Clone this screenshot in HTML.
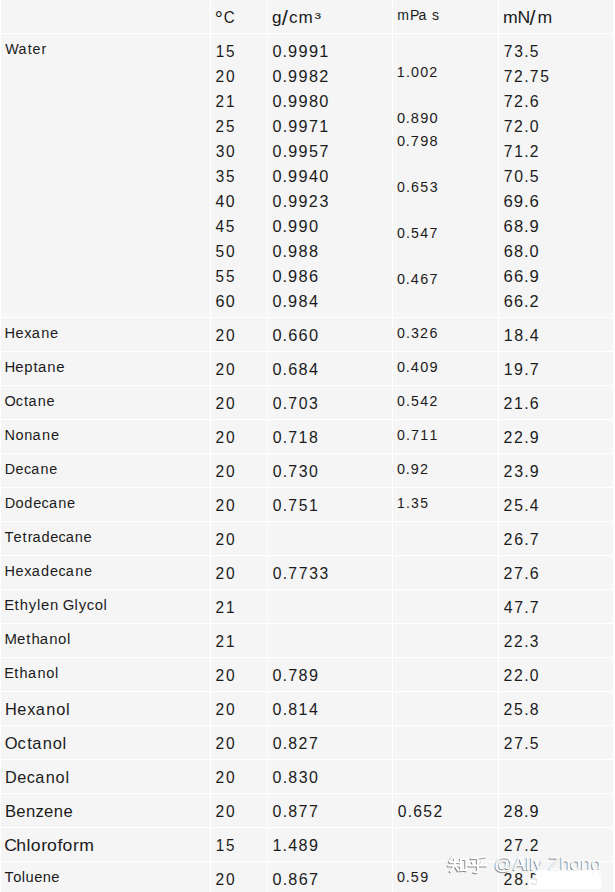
<!DOCTYPE html>
<html><head><meta charset="utf-8"><title>Liquid properties table</title><style>
html,body{margin:0;padding:0}
body{width:615px;height:892px;position:relative;overflow:hidden;background:#f5f5f5;font-family:"Liberation Sans",sans-serif;color:#1b1b1b;font-kerning:none}
p{position:absolute;left:0;top:0;margin:0;white-space:nowrap;transform-origin:0 0;line-height:1}
s{display:inline-block;text-decoration:none;transform-origin:0 0;white-space:pre}
i{position:absolute;display:block}
</style></head><body>
<i style="left:0px;top:33px;width:615px;height:1px;background:#fff"></i><i style="left:0px;top:314px;width:615px;height:1px;background:#f9f9f9"></i><i style="left:0px;top:317px;width:615px;height:1px;background:#fff"></i><i style="left:0px;top:351px;width:615px;height:1px;background:#fff"></i><i style="left:0px;top:385px;width:615px;height:1px;background:#fff"></i><i style="left:0px;top:419px;width:615px;height:1px;background:#fff"></i><i style="left:0px;top:453px;width:615px;height:1px;background:#fff"></i><i style="left:0px;top:487px;width:615px;height:1px;background:#fff"></i><i style="left:0px;top:521px;width:615px;height:1px;background:#fff"></i><i style="left:0px;top:555px;width:615px;height:1px;background:#fff"></i><i style="left:0px;top:589px;width:615px;height:1px;background:#fff"></i><i style="left:0px;top:623px;width:615px;height:1px;background:#fff"></i><i style="left:0px;top:657px;width:615px;height:1px;background:#fff"></i><i style="left:0px;top:691px;width:615px;height:1px;background:#fff"></i><i style="left:0px;top:725px;width:615px;height:1px;background:#fff"></i><i style="left:0px;top:759px;width:615px;height:1px;background:#fff"></i><i style="left:0px;top:793px;width:615px;height:1px;background:#fff"></i><i style="left:0px;top:827px;width:615px;height:1px;background:#fff"></i><i style="left:0px;top:861px;width:615px;height:1px;background:#fff"></i><i style="left:210px;top:0px;width:1px;height:892px;background:#fff"></i><i style="left:213px;top:0px;width:1px;height:892px;background:#f8f8f8"></i><i style="left:267px;top:0px;width:1px;height:892px;background:#fff"></i><i style="left:270px;top:0px;width:1px;height:892px;background:#f8f8f8"></i><i style="left:392px;top:0px;width:1px;height:892px;background:#fff"></i><i style="left:395px;top:0px;width:1px;height:892px;background:#f8f8f8"></i><i style="left:498px;top:0px;width:1px;height:892px;background:#fff"></i><i style="left:501px;top:0px;width:1px;height:892px;background:#f8f8f8"></i><i style="left:0px;top:0px;width:1px;height:892px;background:#fff"></i><i style="left:613px;top:0px;width:2px;height:892px;background:#fff"></i>
<p style="font-size:16.4px;transform:translate(215.904px,9.114px) scaleX(0.9231)"><s style="width:8.513px;transform:translate(-1.130px,-1.174px) scale(1.3424,1.2826)">°</s><s style="width:11.844px">C</s></p>
<p style="font-size:16.4px;transform:translate(272.110px,8.914px) scaleX(1.0432)"><s style="width:10.152px">g</s><s style="width:6.024px;transform:translate(-0.671px,-1.227px) scale(1.2920,1.2149)">/</s><s style="width:9.035px">c</s><s style="width:15.888px">m</s><s style="width:5.461px;transform:translate(-0.409px,1.149px) scale(1.1542,0.9000)">³</s></p>
<p style="font-size:14.0px;transform:translate(397.273px,7.746px) scaleX(1.0062)"><s style="width:12.539px">m</s><s style="width:8.545px">P</s><s style="width:7.786px">a</s><s style="width:5.761px"> </s><s style="width:7.000px">s</s></p>
<p style="font-size:16.4px;transform:translate(503.033px,9.014px) scaleX(1.0748)"><s style="width:13.366px">m</s><s style="width:11.563px">N</s><s style="width:7.126px;transform:translate(-0.491px,-1.094px) scale(1.2135,1.1983)">/</s><s style="width:13.661px">m</s></p>
<p style="font-size:14.0px;transform:translate(5.367px,41.846px) scaleX(1.0171)"><s style="width:12.842px">W</s><s style="width:9.161px">a</s><s style="width:4.785px">t</s><s style="width:8.671px">e</s><s style="width:4.662px">r</s></p>
<p style="font-size:16.4px;transform:translate(215.630px,43.014px) scaleX(0.9307)"><s style="width:11.078px">1</s><s style="width:9.120px">5</s></p>
<p style="font-size:16.4px;transform:translate(272.513px,43.014px) scaleX(0.9959)"><s style="width:10.142px">0</s><s style="width:5.495px">.</s><s style="width:10.461px">9</s><s style="width:10.461px">9</s><s style="width:10.465px">9</s><s style="width:9.120px">1</s></p>
<p style="font-size:16.4px;transform:translate(503.803px,43.014px) scaleX(0.9523)"><s style="width:10.983px">7</s><s style="width:10.448px">3</s><s style="width:5.844px">.</s><s style="width:9.120px">5</s></p>
<p style="font-size:16.4px;transform:translate(215.433px,68.014px) scaleX(0.9490)"><s style="width:11.036px">2</s><s style="width:9.120px">0</s></p>
<p style="font-size:16.4px;transform:translate(272.538px,68.014px) scaleX(0.9906)"><s style="width:10.184px">0</s><s style="width:5.537px">.</s><s style="width:10.517px">9</s><s style="width:10.618px">9</s><s style="width:10.310px">8</s><s style="width:9.120px">2</s></p>
<p style="font-size:16.4px;transform:translate(503.804px,68.014px) scaleX(0.9524)"><s style="width:10.775px">7</s><s style="width:10.662px">2</s><s style="width:5.900px">.</s><s style="width:10.883px">7</s><s style="width:9.120px">5</s></p>
<p style="font-size:16.4px;transform:translate(215.520px,93.014px) scaleX(0.9302)"><s style="width:11.225px">2</s><s style="width:9.120px">1</s></p>
<p style="font-size:16.4px;transform:translate(272.507px,93.014px) scaleX(0.9971)"><s style="width:10.131px">0</s><s style="width:5.485px">.</s><s style="width:10.446px">9</s><s style="width:10.547px">9</s><s style="width:10.395px">8</s><s style="width:9.120px">0</s></p>
<p style="font-size:16.4px;transform:translate(503.695px,93.014px) scaleX(0.9756)"><s style="width:10.512px">7</s><s style="width:10.456px">2</s><s style="width:5.755px">.</s><s style="width:9.120px">6</s></p>
<p style="font-size:16.4px;transform:translate(215.517px,118.014px) scaleX(0.9307)"><s style="width:11.201px">2</s><s style="width:9.120px">5</s></p>
<p style="font-size:16.4px;transform:translate(272.568px,118.014px) scaleX(0.9839)"><s style="width:10.238px">0</s><s style="width:5.590px">.</s><s style="width:10.588px">9</s><s style="width:10.638px">9</s><s style="width:10.544px">7</s><s style="width:9.120px">1</s></p>
<p style="font-size:16.4px;transform:translate(503.750px,118.014px) scaleX(0.9637)"><s style="width:10.642px">7</s><s style="width:10.558px">2</s><s style="width:5.799px">.</s><s style="width:9.120px">0</s></p>
<p style="font-size:16.4px;transform:translate(215.633px,143.014px) scaleX(0.9489)"><s style="width:10.827px">3</s><s style="width:9.120px">0</s></p>
<p style="font-size:16.4px;transform:translate(272.570px,143.014px) scaleX(0.9834)"><s style="width:10.242px">0</s><s style="width:5.594px">.</s><s style="width:10.593px">9</s><s style="width:10.591px">9</s><s style="width:10.645px">5</s><s style="width:9.120px">7</s></p>
<p style="font-size:16.4px;transform:translate(503.802px,143.014px) scaleX(0.9524)"><s style="width:10.894px">7</s><s style="width:10.537px">1</s><s style="width:5.736px">.</s><s style="width:9.120px">2</s></p>
<p style="font-size:16.4px;transform:translate(215.715px,168.014px) scaleX(0.9309)"><s style="width:10.985px">3</s><s style="width:9.120px">5</s></p>
<p style="font-size:16.4px;transform:translate(272.521px,168.014px) scaleX(0.9941)"><s style="width:10.154px">0</s><s style="width:5.508px">.</s><s style="width:10.478px">9</s><s style="width:10.528px">9</s><s style="width:10.478px">4</s><s style="width:9.120px">0</s></p>
<p style="font-size:16.4px;transform:translate(503.750px,168.014px) scaleX(0.9638)"><s style="width:10.802px">7</s><s style="width:10.400px">0</s><s style="width:5.747px">.</s><s style="width:9.120px">5</s></p>
<p style="font-size:16.4px;transform:translate(215.513px,193.014px) scaleX(0.9659)"><s style="width:10.682px">4</s><s style="width:9.120px">0</s></p>
<p style="font-size:16.4px;transform:translate(272.581px,193.014px) scaleX(0.9809)"><s style="width:10.262px">0</s><s style="width:5.614px">.</s><s style="width:10.620px">9</s><s style="width:10.513px">9</s><s style="width:10.826px">2</s><s style="width:9.120px">3</s></p>
<p style="font-size:16.4px;transform:translate(503.557px,193.014px) scaleX(1.0181)"><s style="width:10.122px">6</s><s style="width:10.012px">9</s><s style="width:5.418px">.</s><s style="width:9.120px">6</s></p>
<p style="font-size:16.4px;transform:translate(215.592px,218.014px) scaleX(0.9487)"><s style="width:10.824px">4</s><s style="width:9.120px">5</s></p>
<p style="font-size:16.4px;transform:translate(272.498px,218.014px) scaleX(0.9988)"><s style="width:10.115px">0</s><s style="width:5.469px">.</s><s style="width:10.425px">9</s><s style="width:10.475px">9</s><s style="width:9.120px">0</s></p>
<p style="font-size:16.4px;transform:translate(503.594px,218.014px) scaleX(1.0102)"><s style="width:10.303px">6</s><s style="width:9.972px">8</s><s style="width:5.378px">.</s><s style="width:9.120px">9</s></p>
<p style="font-size:16.4px;transform:translate(215.535px,243.014px) scaleX(0.9489)"><s style="width:10.930px">5</s><s style="width:9.120px">0</s></p>
<p style="font-size:16.4px;transform:translate(272.511px,243.014px) scaleX(0.9960)"><s style="width:10.137px">0</s><s style="width:5.491px">.</s><s style="width:10.556px">9</s><s style="width:10.454px">8</s><s style="width:9.120px">8</s></p>
<p style="font-size:16.4px;transform:translate(503.650px,243.014px) scaleX(0.9979)"><s style="width:10.428px">6</s><s style="width:10.067px">8</s><s style="width:5.522px">.</s><s style="width:9.120px">0</s></p>
<p style="font-size:16.4px;transform:translate(215.618px,268.014px) scaleX(0.9308)"><s style="width:11.090px">5</s><s style="width:9.120px">5</s></p>
<p style="font-size:16.4px;transform:translate(272.484px,268.014px) scaleX(1.0020)"><s style="width:10.090px">0</s><s style="width:5.444px">.</s><s style="width:10.493px">9</s><s style="width:10.393px">8</s><s style="width:9.120px">6</s></p>
<p style="font-size:16.4px;transform:translate(503.557px,268.014px) scaleX(1.0182)"><s style="width:10.222px">6</s><s style="width:9.911px">6</s><s style="width:5.317px">.</s><s style="width:9.120px">9</s></p>
<p style="font-size:16.4px;transform:translate(215.473px,293.014px) scaleX(0.9854)"><s style="width:10.420px">6</s><s style="width:9.120px">0</s></p>
<p style="font-size:16.4px;transform:translate(272.528px,293.014px) scaleX(0.9922)"><s style="width:10.166px">0</s><s style="width:5.520px">.</s><s style="width:10.595px">9</s><s style="width:10.442px">8</s><s style="width:9.120px">4</s></p>
<p style="font-size:16.4px;transform:translate(503.664px,293.014px) scaleX(0.9953)"><s style="width:10.460px">6</s><s style="width:10.089px">6</s><s style="width:5.391px">.</s><s style="width:9.120px">2</s></p>
<p style="font-size:14.0px;transform:translate(396.822px,64.846px) scaleX(1.0184)"><s style="width:8.901px">1</s><s style="width:4.998px">.</s><s style="width:9.170px">0</s><s style="width:8.915px">0</s><s style="width:7.786px">2</s></p>
<p style="font-size:14.0px;transform:translate(396.898px,110.846px) scaleX(1.0440)"><s style="width:8.577px">0</s><s style="width:4.770px">.</s><s style="width:8.934px">8</s><s style="width:8.984px">9</s><s style="width:7.786px">0</s></p>
<p style="font-size:14.0px;transform:translate(396.922px,133.846px) scaleX(1.0377)"><s style="width:8.618px">0</s><s style="width:4.760px">.</s><s style="width:9.038px">7</s><s style="width:8.989px">9</s><s style="width:7.786px">8</s></p>
<p style="font-size:14.0px;transform:translate(397.019px,179.846px) scaleX(1.0127)"><s style="width:8.785px">0</s><s style="width:4.981px">.</s><s style="width:9.159px">6</s><s style="width:9.314px">5</s><s style="width:7.786px">3</s></p>
<p style="font-size:14.0px;transform:translate(397.021px,225.846px) scaleX(1.0124)"><s style="width:8.788px">0</s><s style="width:4.930px">.</s><s style="width:9.266px">5</s><s style="width:9.166px">4</s><s style="width:7.786px">7</s></p>
<p style="font-size:14.0px;transform:translate(396.953px,271.846px) scaleX(1.0299)"><s style="width:8.671px">0</s><s style="width:4.863px">.</s><s style="width:9.061px">4</s><s style="width:9.007px">6</s><s style="width:7.786px">7</s></p>
<p style="font-size:14.0px;transform:translate(4.566px,326.146px) scaleX(1.0427)"><s style="width:10.411px">H</s><s style="width:8.487px">e</s><s style="width:7.263px">x</s><s style="width:9.031px">a</s><s style="width:8.435px">n</s><s style="width:7.786px">e</s></p>
<p style="font-size:16.4px;transform:translate(215.433px,327.114px) scaleX(0.9490)"><s style="width:11.036px">2</s><s style="width:9.120px">0</s></p>
<p style="font-size:16.4px;transform:translate(272.498px,327.114px) scaleX(0.9988)"><s style="width:10.115px">0</s><s style="width:5.571px">.</s><s style="width:10.425px">6</s><s style="width:10.373px">6</s><s style="width:9.120px">0</s></p>
<p style="font-size:14.0px;transform:translate(397.004px,326.146px) scaleX(1.0163)"><s style="width:8.759px">0</s><s style="width:5.003px">.</s><s style="width:8.921px">3</s><s style="width:9.385px">2</s><s style="width:7.786px">6</s></p>
<p style="font-size:16.4px;transform:translate(503.647px,327.114px) scaleX(0.9753)"><s style="width:10.770px">1</s><s style="width:10.251px">8</s><s style="width:5.705px">.</s><s style="width:9.120px">4</s></p>
<p style="font-size:14.0px;transform:translate(4.474px,360.146px) scaleX(1.0617)"><s style="width:10.254px">H</s><s style="width:8.371px">e</s><s style="width:8.692px">p</s><s style="width:4.206px">t</s><s style="width:8.883px">a</s><s style="width:8.292px">n</s><s style="width:7.786px">e</s></p>
<p style="font-size:16.4px;transform:translate(215.433px,361.114px) scaleX(0.9490)"><s style="width:11.036px">2</s><s style="width:9.120px">0</s></p>
<p style="font-size:16.4px;transform:translate(272.528px,361.114px) scaleX(0.9922)"><s style="width:10.166px">0</s><s style="width:5.623px">.</s><s style="width:10.492px">6</s><s style="width:10.442px">8</s><s style="width:9.120px">4</s></p>
<p style="font-size:14.0px;transform:translate(396.929px,360.146px) scaleX(1.0360)"><s style="width:8.630px">0</s><s style="width:4.822px">.</s><s style="width:9.054px">4</s><s style="width:8.953px">0</s><s style="width:7.786px">9</s></p>
<p style="font-size:16.4px;transform:translate(503.642px,361.114px) scaleX(0.9765)"><s style="width:10.657px">1</s><s style="width:10.345px">9</s><s style="width:5.697px">.</s><s style="width:9.120px">7</s></p>
<p style="font-size:14.0px;transform:translate(4.467px,394.146px) scaleX(1.0343)"><s style="width:10.869px">O</s><s style="width:8.080px">c</s><s style="width:4.321px">t</s><s style="width:9.038px">a</s><s style="width:8.441px">n</s><s style="width:7.786px">e</s></p>
<p style="font-size:16.4px;transform:translate(215.433px,395.114px) scaleX(0.9490)"><s style="width:11.036px">2</s><s style="width:9.120px">0</s></p>
<p style="font-size:16.4px;transform:translate(272.644px,395.114px) scaleX(0.9667)"><s style="width:10.377px">0</s><s style="width:5.777px">.</s><s style="width:10.772px">7</s><s style="width:10.822px">0</s><s style="width:9.120px">3</s></p>
<p style="font-size:14.0px;transform:translate(397.034px,394.146px) scaleX(1.0092)"><s style="width:8.812px">0</s><s style="width:4.954px">.</s><s style="width:9.297px">5</s><s style="width:9.042px">4</s><s style="width:7.786px">2</s></p>
<p style="font-size:16.4px;transform:translate(503.561px,395.114px) scaleX(0.9719)"><s style="width:10.824px">2</s><s style="width:10.371px">1</s><s style="width:5.785px">.</s><s style="width:9.120px">6</s></p>
<p style="font-size:14.0px;transform:translate(4.579px,428.146px) scaleX(1.0363)"><s style="width:10.488px">N</s><s style="width:8.595px">o</s><s style="width:7.959px">n</s><s style="width:9.154px">a</s><s style="width:8.554px">n</s><s style="width:7.786px">e</s></p>
<p style="font-size:16.4px;transform:translate(215.433px,429.114px) scaleX(0.9490)"><s style="width:11.036px">2</s><s style="width:9.120px">0</s></p>
<p style="font-size:16.4px;transform:translate(272.629px,429.114px) scaleX(0.9701)"><s style="width:10.348px">0</s><s style="width:5.749px">.</s><s style="width:10.692px">7</s><s style="width:10.828px">1</s><s style="width:9.120px">8</s></p>
<p style="font-size:14.0px;transform:translate(397.025px,428.146px) scaleX(1.0113)"><s style="width:8.796px">0</s><s style="width:4.938px">.</s><s style="width:9.182px">7</s><s style="width:9.227px">1</s><s style="width:7.786px">1</s></p>
<p style="font-size:16.4px;transform:translate(503.562px,429.114px) scaleX(0.9717)"><s style="width:10.712px">2</s><s style="width:10.489px">2</s><s style="width:5.683px">.</s><s style="width:9.120px">9</s></p>
<p style="font-size:14.0px;transform:translate(4.822px,462.146px) scaleX(1.0237)"><s style="width:10.554px">D</s><s style="width:8.171px">e</s><s style="width:7.156px">c</s><s style="width:9.113px">a</s><s style="width:8.514px">n</s><s style="width:7.786px">e</s></p>
<p style="font-size:16.4px;transform:translate(215.433px,463.114px) scaleX(0.9490)"><s style="width:11.036px">2</s><s style="width:9.120px">0</s></p>
<p style="font-size:16.4px;transform:translate(272.644px,463.114px) scaleX(0.9666)"><s style="width:10.377px">0</s><s style="width:5.777px">.</s><s style="width:10.822px">7</s><s style="width:10.722px">3</s><s style="width:9.120px">0</s></p>
<p style="font-size:14.0px;transform:translate(396.952px,462.146px) scaleX(1.0296)"><s style="width:8.669px">0</s><s style="width:4.861px">.</s><s style="width:8.854px">9</s><s style="width:7.786px">2</s></p>
<p style="font-size:16.4px;transform:translate(503.563px,463.114px) scaleX(0.9714)"><s style="width:10.923px">2</s><s style="width:10.284px">3</s><s style="width:5.685px">.</s><s style="width:9.120px">9</s></p>
<p style="font-size:14.0px;transform:translate(4.757px,496.146px) scaleX(1.0415)"><s style="width:10.409px">D</s><s style="width:8.326px">o</s><s style="width:8.578px">d</s><s style="width:8.088px">e</s><s style="width:7.075px">c</s><s style="width:9.021px">a</s><s style="width:8.425px">n</s><s style="width:7.786px">e</s></p>
<p style="font-size:16.4px;transform:translate(215.433px,497.114px) scaleX(0.9490)"><s style="width:11.036px">2</s><s style="width:9.120px">0</s></p>
<p style="font-size:16.4px;transform:translate(272.683px,497.114px) scaleX(0.9583)"><s style="width:10.449px">0</s><s style="width:5.849px">.</s><s style="width:10.815px">7</s><s style="width:10.882px">5</s><s style="width:9.120px">1</s></p>
<p style="font-size:14.0px;transform:translate(396.942px,496.146px) scaleX(0.9885)"><s style="width:9.098px">1</s><s style="width:5.199px">.</s><s style="width:9.335px">3</s><s style="width:7.786px">5</s></p>
<p style="font-size:16.4px;transform:translate(503.617px,497.114px) scaleX(0.9594)"><s style="width:10.954px">2</s><s style="width:10.487px">5</s><s style="width:5.834px">.</s><s style="width:9.120px">4</s></p>
<p style="font-size:14.0px;transform:translate(4.550px,530.146px) scaleX(1.0442)"><s style="width:8.518px">T</s><s style="width:8.569px">e</s><s style="width:5.240px">t</s><s style="width:4.356px">r</s><s style="width:8.691px">a</s><s style="width:8.382px">d</s><s style="width:7.913px">e</s><s style="width:6.902px">c</s><s style="width:8.825px">a</s><s style="width:8.235px">n</s><s style="width:7.786px">e</s></p>
<p style="font-size:16.4px;transform:translate(215.433px,531.114px) scaleX(0.9490)"><s style="width:11.036px">2</s><s style="width:9.120px">0</s></p>
<p style="font-size:16.4px;transform:translate(503.544px,531.114px) scaleX(0.9758)"><s style="width:10.881px">2</s><s style="width:10.244px">6</s><s style="width:5.701px">.</s><s style="width:9.120px">7</s></p>
<p style="font-size:14.0px;transform:translate(4.614px,564.146px) scaleX(1.0319)"><s style="width:10.491px">H</s><s style="width:8.557px">e</s><s style="width:7.332px">x</s><s style="width:8.964px">a</s><s style="width:8.664px">d</s><s style="width:8.165px">e</s><s style="width:7.150px">c</s><s style="width:9.106px">a</s><s style="width:8.508px">n</s><s style="width:7.786px">e</s></p>
<p style="font-size:16.4px;transform:translate(215.433px,565.114px) scaleX(0.9490)"><s style="width:11.036px">2</s><s style="width:9.120px">0</s></p>
<p style="font-size:16.4px;transform:translate(272.690px,565.114px) scaleX(0.9571)"><s style="width:10.461px">0</s><s style="width:5.861px">.</s><s style="width:10.884px">7</s><s style="width:10.934px">7</s><s style="width:10.884px">3</s><s style="width:9.120px">3</s></p>
<p style="font-size:16.4px;transform:translate(503.544px,565.114px) scaleX(0.9755)"><s style="width:10.826px">2</s><s style="width:10.299px">7</s><s style="width:5.755px">.</s><s style="width:9.120px">6</s></p>
<p style="font-size:14.0px;transform:translate(4.273px,598.146px) scaleX(1.0601)"><s style="width:9.585px">E</s><s style="width:4.970px">t</s><s style="width:8.654px">h</s><s style="width:7.808px">y</s><s style="width:3.704px">l</s><s style="width:8.436px">e</s><s style="width:7.786px">n</s><s style="width:4.360px"> </s><s style="width:11.016px">G</s><s style="width:3.911px">l</s><s style="width:7.539px">y</s><s style="width:7.590px">c</s><s style="width:8.333px">o</s><s style="width:3.111px">l</s></p>
<p style="font-size:16.4px;transform:translate(215.520px,599.114px) scaleX(0.9302)"><s style="width:11.225px">2</s><s style="width:9.120px">1</s></p>
<p style="font-size:16.4px;transform:translate(503.745px,599.114px) scaleX(0.9672)"><s style="width:10.761px">4</s><s style="width:10.368px">7</s><s style="width:5.769px">.</s><s style="width:9.120px">7</s></p>
<p style="font-size:14.0px;transform:translate(4.450px,632.146px) scaleX(1.0661)"><s style="width:11.812px">M</s><s style="width:8.646px">e</s><s style="width:4.915px">t</s><s style="width:7.794px">h</s><s style="width:8.923px">a</s><s style="width:8.282px">n</s><s style="width:8.285px">o</s><s style="width:3.111px">l</s></p>
<p style="font-size:16.4px;transform:translate(215.520px,633.114px) scaleX(0.9302)"><s style="width:11.225px">2</s><s style="width:9.120px">1</s></p>
<p style="font-size:16.4px;transform:translate(503.669px,633.114px) scaleX(0.9482)"><s style="width:10.978px">2</s><s style="width:10.694px">2</s><s style="width:5.981px">.</s><s style="width:9.120px">3</s></p>
<p style="font-size:14.0px;transform:translate(4.268px,666.146px) scaleX(1.0386)"><s style="width:9.703px">E</s><s style="width:5.092px">t</s><s style="width:8.001px">h</s><s style="width:9.144px">a</s><s style="width:8.496px">n</s><s style="width:8.438px">o</s><s style="width:3.111px">l</s></p>
<p style="font-size:16.4px;transform:translate(215.433px,667.114px) scaleX(0.9490)"><s style="width:11.036px">2</s><s style="width:9.120px">0</s></p>
<p style="font-size:16.4px;transform:translate(272.550px,667.114px) scaleX(0.9874)"><s style="width:10.205px">0</s><s style="width:5.608px">.</s><s style="width:10.597px">7</s><s style="width:10.443px">8</s><s style="width:9.120px">9</s></p>
<p style="font-size:16.4px;transform:translate(503.616px,667.114px) scaleX(0.9598)"><s style="width:10.845px">2</s><s style="width:10.591px">2</s><s style="width:5.832px">.</s><s style="width:9.120px">0</s></p>
<p style="font-size:16.4px;transform:translate(5.114px,701.114px) scaleX(1.0004)"><s style="width:12.193px">H</s><s style="width:9.967px">e</s><s style="width:8.593px">x</s><s style="width:10.423px">a</s><s style="width:9.911px">n</s><s style="width:9.782px">o</s><s style="width:3.644px">l</s></p>
<p style="font-size:16.4px;transform:translate(215.433px,701.114px) scaleX(0.9490)"><s style="width:11.036px">2</s><s style="width:9.120px">0</s></p>
<p style="font-size:16.4px;transform:translate(272.604px,701.114px) scaleX(0.9753)"><s style="width:10.303px">0</s><s style="width:5.757px">.</s><s style="width:10.580px">8</s><s style="width:10.717px">1</s><s style="width:9.120px">4</s></p>
<p style="font-size:16.4px;transform:translate(503.599px,701.114px) scaleX(0.9636)"><s style="width:10.907px">2</s><s style="width:10.452px">5</s><s style="width:5.852px">.</s><s style="width:9.120px">8</s></p>
<p style="font-size:16.4px;transform:translate(4.849px,735.114px) scaleX(1.0051)"><s style="width:12.704px">O</s><s style="width:9.483px">c</s><s style="width:5.158px">t</s><s style="width:10.419px">a</s><s style="width:9.907px">n</s><s style="width:9.779px">o</s><s style="width:3.644px">l</s></p>
<p style="font-size:16.4px;transform:translate(215.433px,735.114px) scaleX(0.9490)"><s style="width:11.036px">2</s><s style="width:9.120px">0</s></p>
<p style="font-size:16.4px;transform:translate(272.630px,735.114px) scaleX(0.9700)"><s style="width:10.350px">0</s><s style="width:5.804px">.</s><s style="width:10.526px">8</s><s style="width:10.895px">2</s><s style="width:9.120px">7</s></p>
<p style="font-size:16.4px;transform:translate(503.651px,735.114px) scaleX(0.9522)"><s style="width:11.094px">2</s><s style="width:10.498px">7</s><s style="width:5.844px">.</s><s style="width:9.120px">5</s></p>
<p style="font-size:16.4px;transform:translate(4.919px,769.114px) scaleX(0.9932)"><s style="width:12.442px">D</s><s style="width:9.563px">e</s><s style="width:8.516px">c</s><s style="width:10.525px">a</s><s style="width:10.011px">n</s><s style="width:9.854px">o</s><s style="width:3.644px">l</s></p>
<p style="font-size:16.4px;transform:translate(215.433px,769.114px) scaleX(0.9490)"><s style="width:11.036px">2</s><s style="width:9.120px">0</s></p>
<p style="font-size:16.4px;transform:translate(272.605px,769.114px) scaleX(0.9752)"><s style="width:10.305px">0</s><s style="width:5.759px">.</s><s style="width:10.675px">8</s><s style="width:10.627px">3</s><s style="width:9.120px">0</s></p>
<p style="font-size:16.4px;transform:translate(5.090px,803.114px) scaleX(1.0134)"><s style="width:10.990px">B</s><s style="width:9.613px">e</s><s style="width:9.485px">n</s><s style="width:8.346px">z</s><s style="width:9.613px">e</s><s style="width:9.710px">n</s><s style="width:9.120px">e</s></p>
<p style="font-size:16.4px;transform:translate(215.433px,803.114px) scaleX(0.9490)"><s style="width:11.036px">2</s><s style="width:9.120px">0</s></p>
<p style="font-size:16.4px;transform:translate(272.616px,803.114px) scaleX(0.9729)"><s style="width:10.325px">0</s><s style="width:5.779px">.</s><s style="width:10.651px">8</s><s style="width:10.704px">7</s><s style="width:9.120px">7</s></p>
<p style="font-size:16.4px;transform:translate(397.822px,803.114px) scaleX(0.9548)"><s style="width:10.326px">0</s><s style="width:5.782px">.</s><s style="width:10.597px">6</s><s style="width:10.599px">5</s><s style="width:9.120px">2</s></p>
<p style="font-size:16.4px;transform:translate(503.492px,803.114px) scaleX(0.9871)"><s style="width:10.752px">2</s><s style="width:10.153px">8</s><s style="width:5.558px">.</s><s style="width:9.120px">9</s></p>
<p style="font-size:16.4px;transform:translate(4.156px,837.114px) scaleX(1.0740)"><s style="width:11.335px">C</s><s style="width:9.537px">h</s><s style="width:3.906px">l</s><s style="width:9.676px">o</s><s style="width:5.562px">r</s><s style="width:9.634px">o</s><s style="width:4.723px">f</s><s style="width:9.676px">o</s><s style="width:5.962px">r</s><s style="width:13.661px">m</s></p>
<p style="font-size:16.4px;transform:translate(215.630px,837.114px) scaleX(0.9307)"><s style="width:11.078px">1</s><s style="width:9.120px">5</s></p>
<p style="font-size:16.4px;transform:translate(272.503px,837.114px) scaleX(0.9848)"><s style="width:10.273px">1</s><s style="width:5.632px">.</s><s style="width:10.629px">4</s><s style="width:10.475px">8</s><s style="width:9.120px">9</s></p>
<p style="font-size:16.4px;transform:translate(503.651px,837.114px) scaleX(0.9523)"><s style="width:11.094px">2</s><s style="width:10.498px">7</s><s style="width:5.736px">.</s><s style="width:9.120px">2</s></p>
<p style="font-size:14.0px;transform:translate(4.493px,870.146px) scaleX(1.0505)"><s style="width:8.365px">T</s><s style="width:8.142px">o</s><s style="width:3.557px">l</s><s style="width:8.222px">u</s><s style="width:8.167px">e</s><s style="width:8.129px">n</s><s style="width:7.786px">e</s></p>
<p style="font-size:16.4px;transform:translate(215.433px,871.114px) scaleX(0.9490)"><s style="width:11.036px">2</s><s style="width:9.120px">0</s></p>
<p style="font-size:16.4px;transform:translate(272.550px,871.114px) scaleX(0.9876)"><s style="width:10.205px">0</s><s style="width:5.660px">.</s><s style="width:10.547px">8</s><s style="width:10.491px">6</s><s style="width:9.120px">7</s></p>
<p style="font-size:14.0px;transform:translate(396.972px,870.146px) scaleX(1.0239)"><s style="width:8.703px">0</s><s style="width:4.845px">.</s><s style="width:9.151px">5</s><s style="width:7.786px">9</s></p>
<p style="font-size:16.4px;transform:translate(503.599px,871.114px) scaleX(0.9638)"><s style="width:11.014px">2</s><s style="width:10.346px">8</s><s style="width:5.746px">.</s><s style="width:9.120px">5</s></p>
<svg style="position:absolute;left:440px;top:848px" width="60" height="30" viewBox="0 0 60 30">
<g fill="none" stroke-linecap="square" stroke-width="2">
<g stroke="rgba(70,70,70,0.6)" transform="translate(-1,1)">
 <path d="M12.7 8.9 L9.9 13.4 M10.5 14.2 H18.8 M8.7 17.4 H20 M14.8 10.5 V16 Q13.5 20.5 10.7 23.1 M15.6 18.3 L18.6 22.3 M20.9 10.9 V22.3 M20.9 10.9 H26.3 V22.3 M20.9 21.9 H26.3"/>
 <path d="M45.7 8.5 Q39 10 31.8 10.3 M32.7 14.2 L34.3 17 M42.2 14 L40.2 17.2 M28.6 17.6 H46.5 M37.9 10.9 V23.5 Q37.5 24.8 34.5 24"/>
</g>
<g stroke="#ffffff">
 <path d="M12.7 8.9 L9.9 13.4 M10.5 14.2 H18.8 M8.7 17.4 H20 M14.8 10.5 V16 Q13.5 20.5 10.7 23.1 M15.6 18.3 L18.6 22.3 M20.9 10.9 V22.3 M20.9 10.9 H26.3 V22.3 M20.9 21.9 H26.3"/>
 <path d="M45.7 8.5 Q39 10 31.8 10.3 M32.7 14.2 L34.3 17 M42.2 14 L40.2 17.2 M28.6 17.6 H46.5 M37.9 10.9 V23.5 Q37.5 24.8 34.5 24"/>
</g></g></svg>
<div style="position:absolute;left:0;top:0;transform:translate(494.1px,854.4px) scaleX(0.986);transform-origin:0 0;font-size:19px;line-height:19px;color:#fff;white-space:nowrap;text-shadow:-0.8px 0.8px 0.8px rgba(60,60,60,0.65)">@Ally Zhong</div>
<div style="position:absolute;left:536px;top:870px;width:65px;height:19px;background:rgba(255,255,255,0.85)"></div>
<div style="position:absolute;left:529px;top:878px;width:7px;height:11px;background:rgba(255,255,255,0.85)"></div>
<svg style="position:absolute;left:530px;top:866px" width="75" height="26" viewBox="0 0 75 26">
<g fill="none" stroke="#fff" stroke-width="2">
<path d="M8 6 V20 M8 12 H16 M2 20 H20 M26 5 L28 7 M25 10 L27 12 M25 20 L29 14 M32 6 H42 M34 6 V20 M31 11 H44 M31 16 H43 M33 20 H43 M50 6 L52 8 M49 11 H53 V20 M57 5 H70 M60 9 H68 M58 13 H70 V21 M58 13 V21 M58 17 H70"/>
</g></svg>

</body></html>
